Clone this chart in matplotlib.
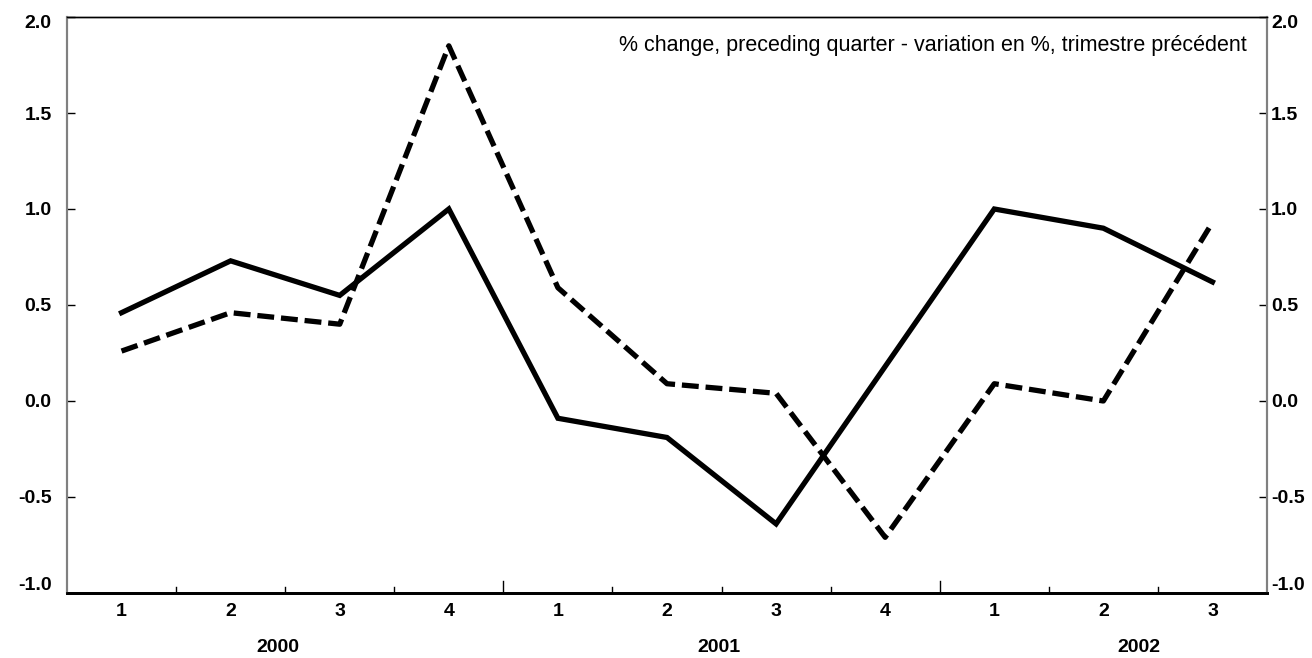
import numpy as np
import matplotlib
matplotlib.use("Agg")
import matplotlib.pyplot as plt
import matplotlib.transforms as mtransforms

plt.rcParams['font.family'] = ['Liberation Sans', 'DejaVu Sans']

# quarters 2000Q1 .. 2002Q3
quarters = ['1', '2', '3', '4', '1', '2', '3', '4', '1', '2', '3']
years = ['2000', '2001', '2002']
solid = [0.46, 0.73, 0.55, 1.00, -0.09, -0.19, -0.64, 0.18, 1.00, 0.90, 0.62]
dashed = [0.26, 0.46, 0.40, 1.85, 0.59, 0.09, 0.04, -0.71, 0.09, 0.00, 0.93]
note = '% change, preceding quarter - variation en %, trimestre précédent'

fig = plt.figure(figsize=(13.12, 6.58), dpi=100)
ax = fig.add_axes([67/1312, 1-593/658, 1200/1312, 576/658])

x = np.arange(len(quarters))
ax.plot(x, solid, '-', color='black', linewidth=3.8, solid_joinstyle='miter')
ax.plot(x, dashed, '--', color='black', linewidth=3.8, dashes=(3.2, 1.3))

ax.set_xlim(-0.5, len(quarters) - 0.5)
ax.set_ylim(-1.0, 2.0)

yt = np.arange(-1.0, 2.01, 0.5)
ylabels = ['%.1f' % v for v in yt]
ax.set_yticks(yt)
ax.set_yticklabels(ylabels, fontweight='bold', fontsize=14)
ax.tick_params(axis='y', direction='in', length=6, width=1, color='black', pad=11)

# right-hand scale, labels closer to the spine
ax2 = ax.twinx()
ax2.set_ylim(ax.get_ylim())
ax2.set_yticks(yt)
ax2.set_yticklabels(ylabels, fontweight='bold', fontsize=14)
ax2.tick_params(axis='y', direction='in', length=6, width=1, color='black', pad=3)

# end labels sit a little inside the range, as in the original
up = mtransforms.ScaledTranslation(0, 10/100, fig.dpi_scale_trans)
down = mtransforms.ScaledTranslation(0, -5/100, fig.dpi_scale_trans)
for t in ax.yaxis.get_major_ticks()[:1]:
    t.label1.set_transform(t.label1.get_transform() + up)
for t in ax.yaxis.get_major_ticks()[-1:]:
    t.label1.set_transform(t.label1.get_transform() + down)
for t in ax2.yaxis.get_major_ticks()[:1]:
    t.label2.set_transform(t.label2.get_transform() + up)
for t in ax2.yaxis.get_major_ticks()[-1:]:
    t.label2.set_transform(t.label2.get_transform() + down)

# quarter labels, no tick marks
ax.set_xticks(x)
ax.set_xticklabels(quarters, fontweight='bold', fontsize=14)
ax.tick_params(axis='x', length=0, pad=7)

# category boundary ticks (inward), longer at year breaks
for b in np.arange(0.5, len(quarters) - 0.5, 1.0):
    h = 0.063 if b in (3.5, 7.5) else 0.032
    ax.plot([b, b], [-1.0, -1.0 + h], color='black', linewidth=1, clip_on=False)

# year labels, under the quarter labels
year_pos = [1.43, 5.48, 9.33]
for yp, yr in zip(year_pos, years):
    ax.text(yp, -1.0 - 55/192, yr, ha='center', va='center',
            fontweight='bold', fontsize=14)

ax.text(0.983, 0.951, note, transform=ax.transAxes, ha='right', va='center', fontsize=15.5)

for a in (ax, ax2):
    a.spines['bottom'].set_linewidth(2)
    a.spines['bottom'].set_color('black')
    a.spines['top'].set_linewidth(1)
    a.spines['top'].set_color('black')
    a.spines['left'].set_color('#808080')
    a.spines['left'].set_linewidth(1.5)
    a.spines['right'].set_color('#808080')
    a.spines['right'].set_linewidth(1.5)

fig.savefig('out.png', dpi=100)
